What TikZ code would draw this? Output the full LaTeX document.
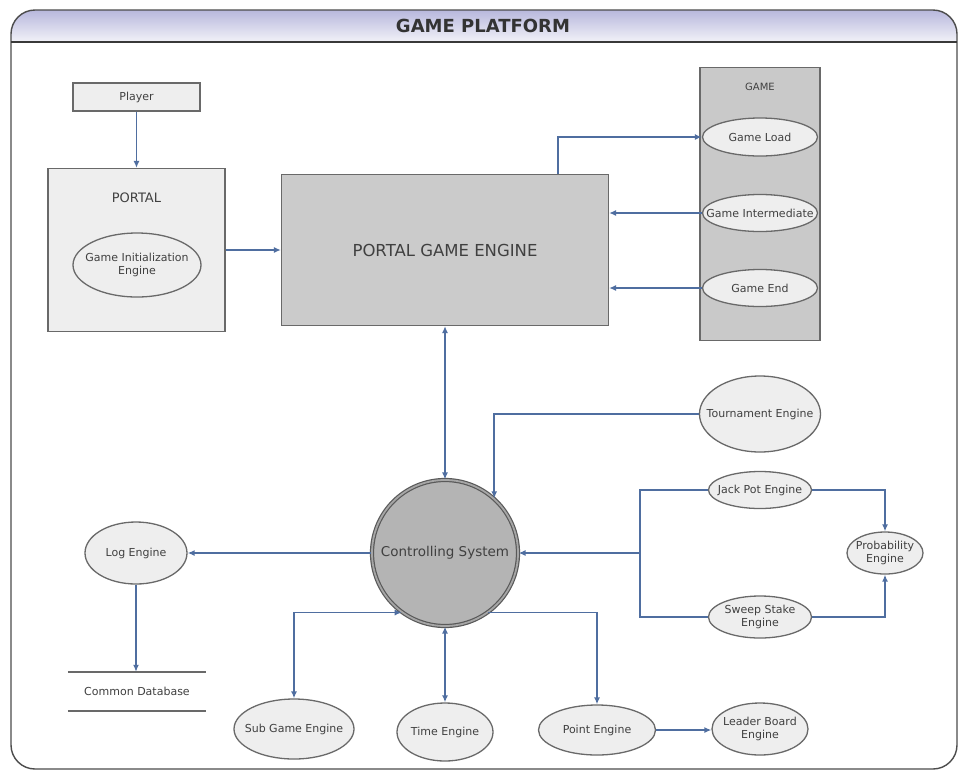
\documentclass[tikz,border=0pt]{standalone}
\usepackage{fontspec}
\setmainfont{DejaVu Sans}
\usetikzlibrary{arrows.meta,shapes.geometric,calc}
\definecolor{wirecol}{RGB}{79,110,160}
\definecolor{txt}{RGB}{64,64,64}
\definecolor{bord}{RGB}{105,105,105}
\definecolor{lightbox}{RGB}{238,238,238}
\definecolor{midbox}{RGB}{203,203,203}
\definecolor{colbox}{RGB}{201,201,201}
\definecolor{csfill}{RGB}{180,180,180}
\definecolor{hdrtop}{RGB}{165,165,212}
\definecolor{hdrbot}{RGB}{242,242,248}
\begin{document}
\begin{tikzpicture}[x=1pt,y=-1pt,
  base/.style={font=\fontsize{11}{13}\selectfont, text=txt},
  rbox/.style={draw=bord, line width=1.2pt, inner sep=0},
  ell/.style={ellipse, draw=bord, line width=1.3pt, fill=lightbox, inner sep=0,
              label={[base,align=center]center:#1}},
  wire/.style={draw=wirecol, line width=1.6pt},
  ar/.style={wire, -{Latex[length=7,width=6]}},
  dar/.style={wire, {Latex[length=7,width=6]}-{Latex[length=7,width=6]}},
]
\useasboundingbox (0,0) rectangle (961,772);
\fill[white] (0,0) rectangle (961,772);
% header
\begin{scope}
  \clip[rounded corners=24] (11,10) rectangle (957,769);
  \shade[top color=hdrtop, bottom color=hdrbot] (0,0) rectangle (961,42);
\end{scope}
\draw[gray!60!black, line width=1.4pt, rounded corners=24] (11,10) rectangle (957,769);
\draw[gray!45!black, line width=1.6pt] (11,42) -- (957,42);
\node[font=\fontsize{18}{20}\selectfont\bfseries, text=black!80] (title) at (483,26) {GAME PLATFORM};

% top part
\node[rbox, fill=lightbox, minimum width=127, minimum height=28, base] (player) at (136.5,97) {Player};
\node[rbox, fill=lightbox, minimum width=177, minimum height=163] (portal) at (136.5,250) {};
\node[base, font=\fontsize{13}{15}\selectfont] (portallbl) at (136.5,198) {PORTAL};
\node[ell={Game Initialization\\Engine}, minimum width=128, minimum height=64] (gie) at (137,265) {};

\node[rbox, fill=midbox, minimum width=327, minimum height=151, base, font=\fontsize{16.5}{18}\selectfont] (pge) at (445,250) {PORTAL GAME ENGINE};

\node[rbox, fill=colbox, minimum width=120, minimum height=273] (gamecol) at (760,204) {};
\node[base, font=\fontsize{10}{12}\selectfont] (gamelbl) at (760,87) {GAME};
\node[ell={Game Load}, minimum width=115, minimum height=38] (gload) at (760,137) {};
\node[ell={Game Intermediate}, minimum width=115, minimum height=37] (gint) at (760,213) {};
\node[ell={Game End}, minimum width=115, minimum height=37] (gend) at (760,288) {};

% controlling system
\node[circle, draw=black!65, double=gray!70, double distance=1.8pt, line width=1.2pt,
      fill=csfill, minimum size=146, inner sep=0,
      font=\fontsize{13.5}{15}\selectfont, text=black!75] (cs) at (445,553) {Controlling System};

% right side
\node[ell={Tournament Engine}, minimum width=121, minimum height=76] (tour) at (760,414) {};
\node[ell={Jack Pot Engine}, minimum width=103, minimum height=37] (jack) at (760,490) {};
\node[ell={Sweep Stake\\Engine}, minimum width=103, minimum height=42] (sweep) at (760,617) {};
\node[ell={Probability\\Engine}, minimum width=76, minimum height=42] (prob) at (885,553) {};

% left side
\node[ell={Log Engine}, minimum width=102, minimum height=62] (log) at (136,553) {};
\node[base, minimum width=138, minimum height=39, inner sep=0] (db) at (137,691.5) {Common Database};
\draw[bord, line width=1.6pt] (db.north west) -- (db.north east) (db.south west) -- (db.south east);

% bottom
\node[ell={Sub Game Engine}, minimum width=120, minimum height=60] (sub) at (294,729) {};
\node[ell={Time Engine}, minimum width=96, minimum height=58] (time) at (445,732) {};
\node[ell={Point Engine}, minimum width=117, minimum height=50] (point) at (597,730) {};
\node[ell={Leader Board\\Engine}, minimum width=96, minimum height=52] (leader) at (760,729) {};

% connectors
\draw[ar] (player.south) -- (portal.north);
\draw[ar] (portal.east) -- (portal.east -| pge.west);
\draw[ar] ([xshift=113]pge.north) |- (gload.west);
\draw[ar] (gint.west) -- (gint.west -| pge.east);
\draw[ar] (gend.west) -- (gend.west -| pge.east);
\draw[dar] (pge.south) -- (cs.north);
\draw[ar] (tour.west) -| (cs.48);
\coordinate (jx) at (640,553);
\draw[wire] (jack.west) -| (jx) |- (sweep.west);
\draw[ar] (jx) -- (cs.east);
\draw[ar] (jack.east) -| (prob.north);
\draw[ar] (sweep.east) -| (prob.south);
\draw[ar] (cs.west) -- (log.east);
\draw[ar] (log.south) -- (log.south |- db.north);
\draw[dar] (cs.234) -| (sub.north);
\draw[dar] (cs.south) -- (time.north);
\draw[ar] (cs.306) -| (point.north);
\draw[ar] (point.east) -- (point.east -| leader.west);
\end{tikzpicture}
\end{document}
